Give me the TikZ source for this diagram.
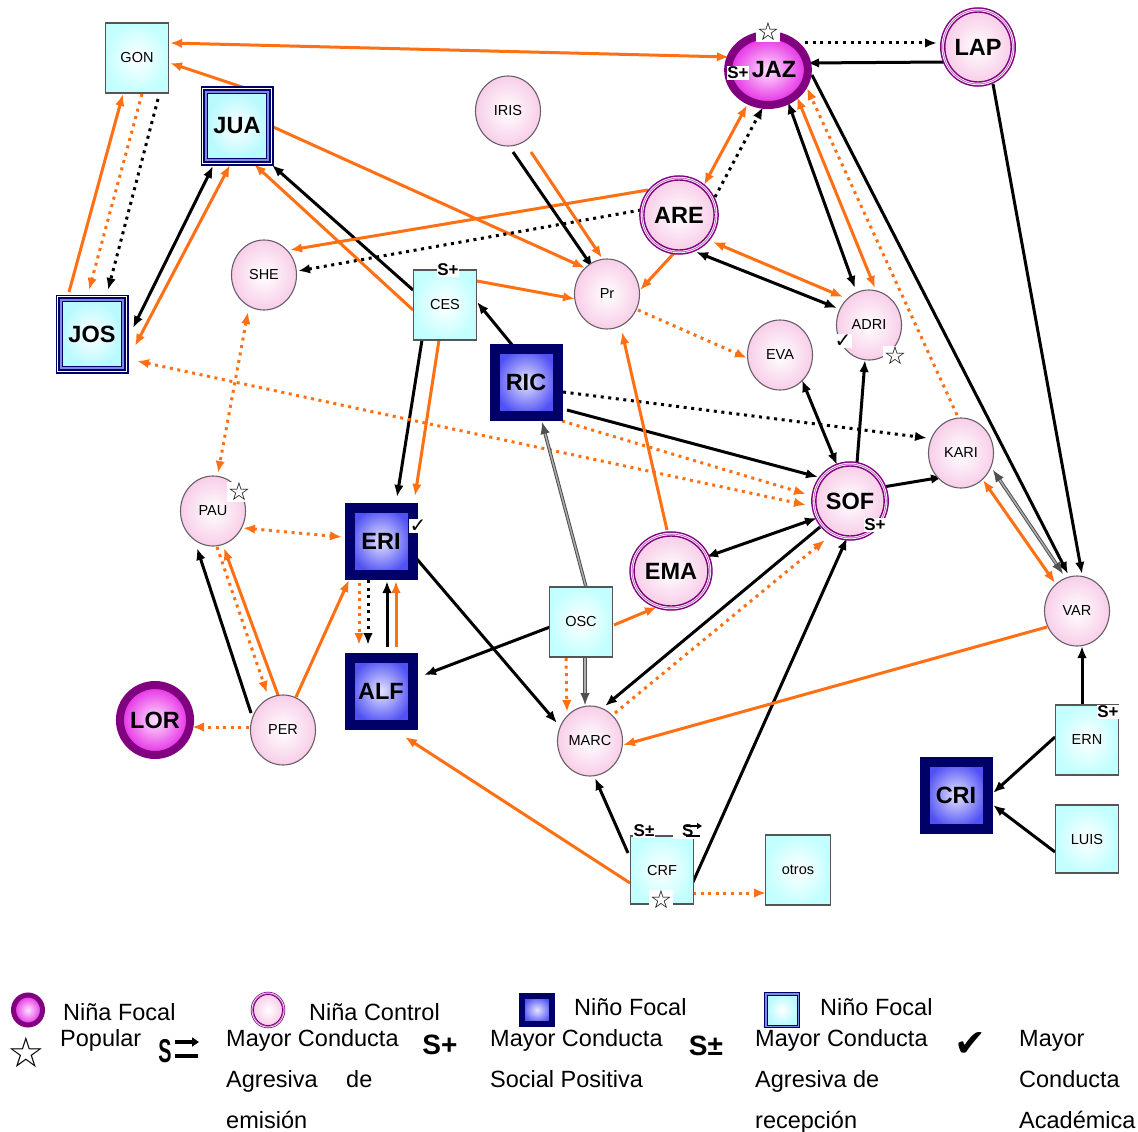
\documentclass[tikz,border=0pt]{standalone}
\usepackage{fontspec}
\usepackage{graphicx}
\setmainfont{Liberation Sans}
\newfontfamily\symf{DejaVu Sans}
\usetikzlibrary{arrows.meta,shapes.geometric}
\pgfdeclarelayer{background}
\pgfsetlayers{background,main}
\definecolor{org}{RGB}{255,112,20}
\definecolor{cpur}{RGB}{128,0,128}
\definecolor{lpur}{RGB}{190,100,190}
\definecolor{navyb}{RGB}{0,0,105}
\definecolor{pinkedge}{RGB}{248,206,232}
\definecolor{cyanedge}{RGB}{195,255,255}
\definecolor{lblue}{RGB}{125,140,225}
\definecolor{cboyfill}{RGB}{185,250,255}
\definecolor{fbin}{RGB}{228,228,255}
\definecolor{fbout}{RGB}{80,80,245}
\definecolor{fgin}{RGB}{255,225,255}
\definecolor{fgout}{RGB}{228,40,228}
\definecolor{circline}{RGB}{105,95,105}
\definecolor{boxline}{RGB}{85,85,85}
\definecolor{gline}{RGB}{80,80,80}
\definecolor{gfill}{RGB}{175,175,175}
\begin{document}
\begin{tikzpicture}[x=1pt,y=-1pt,
  >={Latex[length=12pt,width=9.5pt]},
  lbl/.style={font=\fontsize{14.5}{14.5}\selectfont},
  blbl/.style={font=\fontsize{23.5}{23.5}\selectfont\bfseries},
  circ/.style={ellipse,minimum width=65pt,minimum height=70pt,inner sep=0pt,draw=circline,line width=1.1pt,inner color=white,outer color=pinkedge,lbl},
  cgirl/.style={ellipse,minimum width=64pt,minimum height=70pt,inner sep=0pt,draw=cpur,line width=1.4pt,inner color=white,outer color=pinkedge,
     preaction={draw=cpur,line width=9.5pt},preaction={draw=white,line width=6.5pt},
     preaction={draw=lpur,line width=4.8pt},preaction={draw=white,line width=3pt},blbl},
  fgirl/.style={ellipse,minimum width=66pt,minimum height=70pt,inner sep=0pt,draw=cpur,line width=8pt,inner color=fgin,outer color=fgout,blbl},
  boxn/.style={rectangle,minimum width=63pt,minimum height=70pt,inner sep=0pt,draw=boxline,line width=1.2pt,inner color=white,outer color=cyanedge,lbl},
  fboy/.style={rectangle,minimum width=63pt,minimum height=67pt,inner sep=0pt,draw=navyb,line width=10pt,inner color=fbin,outer color=fbout,blbl},
  cboy/.style={rectangle,minimum width=59pt,minimum height=65pt,inner sep=0pt,draw=navyb,line width=1pt,inner color=white,outer color=cboyfill,
     preaction={draw=navyb,line width=14pt},preaction={draw=white,line width=11pt},
     preaction={draw=navyb,line width=8.5pt},preaction={draw=lblue,line width=5pt},blbl},
  oe/.style={draw=org,line width=3pt},
  be/.style={draw=black,line width=3pt},
  dt/.style={dash pattern=on 3pt off 4.6pt},
  ge/.style={draw=gline,line width=1pt,double=gfill,double distance=1.4pt},
  starn/.style={font=\symf\fontsize{25}{25}\selectfont,fill=white,inner sep=0.5pt},
  chk/.style={font=\symf\fontsize{20}{20}\selectfont,fill=white,inner sep=0.5pt},
  splus/.style={font=\fontsize{17}{17}\selectfont\bfseries,fill=white,inner sep=0.5pt},
  leg/.style={font=\fontsize{23.5}{23.5}\selectfont,anchor=base west,inner sep=0pt},
  stroke/.style={line width=#1,line cap=butt},
]
\useasboundingbox (0,0) rectangle (1138,1132);

% ---------- nodes ----------
\node[boxn] (GON) at (137,58) {GON};
\node[cboy] (JUA) at (237,126) {JUA};
\node[cboy] (JOS) at (92,334) {JOS};
\node[circ] (SHE) at (264,275) {SHE};
\node[circ] (IRIS) at (508,111) {IRIS};
\node[boxn] (CES) at (445,305) {CES};
\node[circ] (Pr) at (607,294) {Pr};
\node[cgirl] (ARE) at (679,215) {ARE};
\node[fgirl] (JAZ) at (768,70) {\hspace{12pt}JAZ};
\node[cgirl] (LAP) at (978,47) {LAP};
\node[circ] (ADRI) at (869,325) {ADRI};
\node[circ] (EVA) at (780,355) {EVA};
\node[fboy] (RIC) at (526,382) {RIC};
\node[circ] (KARI) at (961,453) {KARI};
\node[cgirl] (SOF) at (850,501) {SOF};
\node[circ] (PAU) at (213,511) {PAU};
\node[fboy] (ERI) at (381,541) {ERI};
\node[cgirl] (EMA) at (671,571) {EMA};
\node[boxn] (OSC) at (581,622) {OSC};
\node[circ] (VAR) at (1077,611) {VAR};
\node[fboy] (ALF) at (381,691) {ALF};
\node[fgirl] (LOR) at (155,720) {LOR};
\node[circ] (PER) at (283,730) {PER};
\node[circ] (MARC) at (590,741) {MARC};
\node[boxn] (ERN) at (1087,740) {ERN};
\node[fboy] (CRI) at (956,795) {CRI};
\node[boxn,minimum height=68pt] (LUIS) at (1087,839) {LUIS};
\node[boxn,minimum height=68pt] (CRF) at (662,870) {CRF};
\node[boxn,minimum width=65pt] (otros) at (798,870) {otros\hspace{10pt}};

% ---------- marks ----------
\node[starn] (JAZst) at (768,32) {☆};
\node[splus] (JAZs) at (738,73) {S+};
\node[splus] (CESs) at (448,270) {S+};
\node[chk] (ADRIck) at (843,341) {✓};
\node[starn] (ADRIst) at (895,356) {☆};
\node[splus] (SOFs) at (875,525) {S+};
\node[starn] (PAUst) at (239,492) {☆};
\node[chk] (ERIck) at (418,526) {✓};
\node[splus] (ERNs) at (1108,712) {S+};
\node[splus] (CRFs1) at (644,831) {S±};
\node[splus,anchor=west,minimum width=29pt,minimum height=16pt] (CRFs2) at (673,831) {S};
\draw[stroke=2.2pt,-{Triangle[length=5pt,width=6pt]}] (686,826) -- (702,826);
\draw[stroke=2.2pt] (686,836) -- (700,836);
\node[starn] (CRFst) at (661,900) {☆};

% ---------- connectors ----------
\begin{pgfonlayer}{background}
\fill[white] (0,0) rectangle (1138,1132);
\draw[oe,<->] ([shift={(33,-15)}]GON.center) -- ([shift={(-39,-13)}]JAZ.center);
\draw[oe,->] ([shift={(8,-38)}]JUA.center) -- ([shift={(33,5)}]GON.center);
\draw[oe,->] ([shift={(-23,-42)}]JOS.center) -- ([shift={(-14,36)}]GON.center);
\draw[oe,dt,->] ([shift={(5,36)}]GON.center) -- ([shift={(-3,-44)}]JOS.center);
\draw[be,dt,->] ([shift={(21,41)}]GON.center) -- ([shift={(16,-44)}]JOS.center);
\draw[be,<->] ([shift={(-24,40)}]JUA.center) -- ([shift={(41,-6)}]JOS.center);
\draw[oe,<->] ([shift={(-7,39)}]JUA.center) -- ([shift={(43,12)}]JOS.center);
\draw[oe,->] ([shift={(34,0)}]JUA.center) -- ([shift={(-22,-26)}]Pr.center);
\draw[oe,->] ([shift={(-32,5)}]CES.center) -- ([shift={(17,38)}]JUA.center);
\draw[be,->] ([shift={(-32,-15)}]CES.center) -- ([shift={(35,39)}]JUA.center);
\draw[oe,->] ([shift={(-31,-25)}]ARE.center) -- ([shift={(26,-25)}]SHE.center);
\draw[be,dt,->] ([shift={(-38,-5)}]ARE.center) -- ([shift={(34,-4)}]SHE.center);
\draw[be,->] ([shift={(5,41)}]IRIS.center) -- ([shift={(-14,-26)}]Pr.center);
\draw[oe,->] ([shift={(23,41)}]IRIS.center) -- ([shift={(-5,-36)}]Pr.center);
\draw[oe,->] ([shift={(32,-24)}]CES.center) -- ([shift={(-32,5)}]Pr.center);
\draw[oe,->] ([shift={(-4,37)}]ARE.center) -- ([shift={(33,-4)}]Pr.center);
\draw[oe,<->] ([shift={(25,-30)}]ARE.center) -- ([shift={(-21,35)}]JAZ.center);
\draw[be,dt,->] ([shift={(36,-18)}]ARE.center) -- ([shift={(-5,37)}]JAZ.center);
\draw[be,dt,->] ([shift={(37,-27)}]JAZ.center) -- ([shift={(-41,-4)}]LAP.center);
\draw[be,->] ([shift={(-33,15)}]LAP.center) -- ([shift={(39,-7)}]JAZ.center);
\draw[be,<->] ([shift={(20,32)}]JAZ.center) -- ([shift={(-14,-37)}]ADRI.center);
\draw[oe,<->] ([shift={(29,27)}]JAZ.center) -- ([shift={(6,-37)}]ADRI.center);
\draw[oe,dt,->] ([shift={(-4,-38)}]KARI.center) -- ([shift={(39,18)}]JAZ.center);
\draw[be,->] ([shift={(44,5)}]JAZ.center) -- ([shift={(-9,-37)}]VAR.center);
\draw[be,->] ([shift={(15,37)}]LAP.center) -- ([shift={(5,-37)}]VAR.center);
\draw[be,<->] ([shift={(17,37)}]ARE.center) -- ([shift={(-32,-17)}]ADRI.center);
\draw[oe,<->] ([shift={(34,27)}]ARE.center) -- ([shift={(-26,-28)}]ADRI.center);
\draw[oe,dt,->] ([shift={(31,16)}]Pr.center) -- ([shift={(-33,3)}]EVA.center);
\draw[be,->] ([shift={(-13,-36)}]RIC.center) -- ([shift={(32,-3)}]CES.center);
\draw[be,->] ([shift={(-23,35)}]CES.center) -- ([shift={(16,-44)}]ERI.center);
\draw[oe,->] ([shift={(-6,35)}]CES.center) -- ([shift={(34,-45)}]ERI.center);
\draw[oe,dt,<->] ([shift={(-16,37)}]SHE.center) -- ([shift={(5,-38)}]PAU.center);
\draw[oe,dt,<->] ([shift={(45,27)}]JOS.center) -- ([shift={(-44,4)}]SOF.center);
\draw[oe,dt,->] ([shift={(36,39)}]RIC.center) -- ([shift={(-44,-7)}]SOF.center);
\draw[be,dt,->] ([shift={(37,10)}]RIC.center) -- ([shift={(-34,-15)}]KARI.center);
\draw[be,->] ([shift={(41,28)}]RIC.center) -- ([shift={(-32,-24)}]SOF.center);
\draw[be,<->] ([shift={(22,25)}]EVA.center) -- ([shift={(-13,-36)}]SOF.center);
\draw[be,->] ([shift={(7,-38)}]SOF.center) -- ([shift={(-4,35)}]ADRI.center);
\draw[be,->] ([shift={(33,-14)}]SOF.center) -- ([shift={(-18,24)}]KARI.center);
\draw[oe,->] ([shift={(-4,-41)}]EMA.center) -- ([shift={(15,38)}]Pr.center);
\draw[be,<->] ([shift={(35,-14)}]EMA.center) -- ([shift={(-33,17)}]SOF.center);
\draw[be,->] ([shift={(-30,26)}]SOF.center) -- ([shift={(15,-35)}]MARC.center);
\draw[oe,dt,->] ([shift={(25,-28)}]MARC.center) -- ([shift={(-25,39)}]SOF.center);
\draw[be,->] ([shift={(31,12)}]CRF.center) -- ([shift={(-3,37)}]SOF.center);
\draw[ge,<->] ([shift={(32,17)}]KARI.center) -- ([shift={(-14,-37)}]VAR.center);
\draw[oe,<->] ([shift={(22,27)}]KARI.center) -- ([shift={(-22,-28)}]VAR.center);
\draw[oe,->] ([shift={(-30,16)}]VAR.center) -- ([shift={(33,4)}]MARC.center);
\draw[be,->] ([shift={(-5,-35)}]ERN.center) -- ([shift={(5,35)}]VAR.center);
\draw[be,->] ([shift={(-32,-3)}]ERN.center) -- ([shift={(37,-2)}]CRI.center);
\draw[be,->] ([shift={(-32,13)}]LUIS.center) -- ([shift={(37,10)}]CRI.center);
\draw[ge,->] ([shift={(5,-35)}]OSC.center) -- ([shift={(16,40)}]RIC.center);
\draw[be,->] ([shift={(-31,5)}]OSC.center) -- ([shift={(43,-16)}]ALF.center);
\draw[oe,->] ([shift={(33,3)}]OSC.center) -- ([shift={(-14,36)}]EMA.center);
\draw[ge,->] ([shift={(4,36)}]OSC.center) -- ([shift={(-5,-36)}]MARC.center);
\draw[oe,dt,->] ([shift={(-15,36)}]OSC.center) -- ([shift={(-23,-29)}]MARC.center);
\draw[be,->] ([shift={(35,17)}]ERI.center) -- ([shift={(-33,-18)}]MARC.center);
\draw[oe,dt,->] ([shift={(-22,42)}]ERI.center) -- ([shift={(-22,-46)}]ALF.center);
\draw[be,dt,->] ([shift={(-13,39)}]ERI.center) -- ([shift={(-13,-46)}]ALF.center);
\draw[be,->] ([shift={(6,-44)}]ALF.center) -- ([shift={(6,40)}]ERI.center);
\draw[oe,->] ([shift={(15,-44)}]ALF.center) -- ([shift={(15,40)}]ERI.center);
\draw[oe,dt,<->] ([shift={(30,17)}]PAU.center) -- ([shift={(-39,-4)}]ERI.center);
\draw[be,->] ([shift={(-32,-17)}]PER.center) -- ([shift={(-16,37)}]PAU.center);
\draw[oe,dt,->] ([shift={(4,36)}]PAU.center) -- ([shift={(-16,-37)}]PER.center);
\draw[oe,->] ([shift={(-5,-35)}]PER.center) -- ([shift={(11,37)}]PAU.center);
\draw[oe,->] ([shift={(13,-33)}]PER.center) -- ([shift={(-32,39)}]ERI.center);
\draw[oe,dt,->] ([shift={(-34,-3)}]PER.center) -- ([shift={(37,7)}]LOR.center);
\draw[oe,->] ([shift={(-32,13)}]CRF.center) -- ([shift={(24,46)}]ALF.center);
\draw[be,->] ([shift={(-34,-17)}]CRF.center) -- ([shift={(5,37)}]MARC.center);
\draw[oe,dt,->] ([shift={(31,23)}]CRF.center) -- ([shift={(-32,23)}]otros.center);
\end{pgfonlayer}

% ---------- legend ----------
\node[fgirl,minimum width=29pt,minimum height=30pt,line width=5pt] (Lfg) at (28,1010) {};
\node[leg] (Lt1) at (63,1020) {Niña Focal};
\node[font=\symf\fontsize{42}{42}\selectfont,inner sep=0pt] (Lst) at (26,1052) {☆};
\node[leg] (Lt2) at (60,1046) {Popular};
\node[ellipse,minimum width=29pt,minimum height=31pt,draw=cpur,line width=0.9pt,inner color=white,outer color=pinkedge,
      preaction={draw=cpur,line width=5.5pt},preaction={draw=white,line width=4pt},
      preaction={draw=lpur,line width=2.6pt}] (Lcg) at (268,1010) {};
\node[leg] (Lt3) at (309,1020) {Niña Control};
\node[font=\fontsize{33}{33}\selectfont\bfseries,inner sep=0pt] (LSe) at (165,1051) {\scalebox{0.6}[1]{S}};
\draw[stroke=3.6pt,-{Triangle[length=7pt,width=9pt]}] (175,1042) -- (199,1042);
\draw[stroke=3.6pt] (175,1056) -- (198,1056);
\node[leg] (Lt4) at (226,1046) {Mayor Conducta};
\node[leg] (Lt5) at (226,1087) {Agresiva};
\node[leg] (Lt6) at (346,1087) {de};
\node[leg] (Lt7) at (226,1128) {emisión};
\node[font=\fontsize{28}{28}\selectfont\bfseries,inner sep=0pt] (LSp) at (440,1045) {S+};
\node[leg] (Lt8) at (490,1046) {Mayor Conducta};
\node[leg] (Lt9) at (490,1087) {Social Positiva};
\node[fboy,minimum width=30pt,minimum height=28pt,line width=6pt] (Lfb) at (537,1010) {};
\node[leg] (Lt10) at (574,1015) {Niño Focal};
\node[font=\fontsize{28}{28}\selectfont\bfseries,inner sep=0pt] (LSr) at (706,1046) {S±};
\node[leg] (Lt11) at (755,1046) {Mayor Conducta};
\node[leg] (Lt12) at (755,1087) {Agresiva de};
\node[leg] (Lt13) at (755,1128) {recepción};
\node[rectangle,minimum width=30pt,minimum height=30pt,draw=navyb,line width=0.8pt,inner color=white,outer color=cboyfill,
      preaction={draw=navyb,line width=6pt},preaction={draw=lblue,line width=4pt}] (Lcb) at (782,1010) {};
\node[leg] (Lt14) at (820,1015) {Niño Focal};
\node[font=\symf\fontsize{38}{38}\selectfont,inner sep=0pt] (Lck) at (970,1045) {✔};
\node[leg] (Lt15) at (1019,1046) {Mayor};
\node[leg] (Lt16) at (1019,1087) {Conducta};
\node[leg] (Lt17) at (1019,1128) {Académica};
\end{tikzpicture}
\end{document}
